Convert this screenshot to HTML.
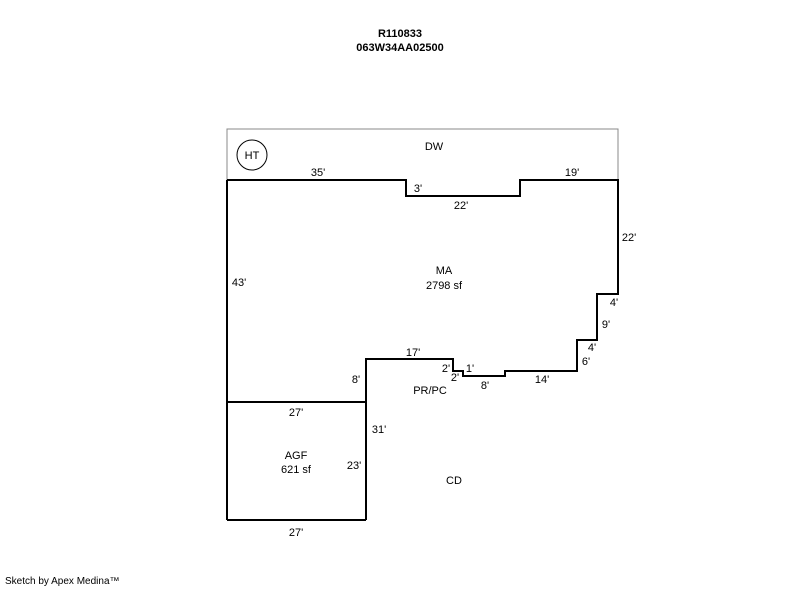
<!DOCTYPE html>
<html><head><style>
body{margin:0;background:#fff;width:800px;height:587px;overflow:hidden;}
svg text{font-family:"Liberation Sans",Arial,sans-serif;font-size:11px;fill:#000;}
</style></head><body>
<svg width="800" height="587" xmlns="http://www.w3.org/2000/svg">
<text x="400" y="37" text-anchor="middle" style="font-weight:bold">R110833</text>
<text x="400" y="51" text-anchor="middle" style="font-weight:bold">063W34AA02500</text>
<polyline points="227,180 227,129 618,129 618,180" fill="none" stroke="#888" stroke-width="1"/>
<circle cx="252" cy="155" r="15" fill="none" stroke="#000" stroke-width="1"/>
<text x="252" y="159" text-anchor="middle">HT</text>
<text x="434" y="150" text-anchor="middle">DW</text>
<polyline fill="none" stroke="#000" stroke-width="2" points="227,180 406,180 406,196 520,196 520,180 618,180 618,294 597,294 597,340 577,340 577,371 505,371 505,376 463,376 463,371 453,371 453,359 366,359 366,520"/>
<line x1="227" y1="180" x2="227" y2="520" stroke="#000" stroke-width="2"/>
<line x1="227" y1="402" x2="366" y2="402" stroke="#000" stroke-width="2"/>
<line x1="227" y1="520" x2="366" y2="520" stroke="#000" stroke-width="2"/>
<text x="318" y="176" text-anchor="middle">35'</text>
<text x="418" y="192" text-anchor="middle">3'</text>
<text x="461" y="209" text-anchor="middle">22'</text>
<text x="572" y="176" text-anchor="middle">19'</text>
<text x="629" y="241" text-anchor="middle">22'</text>
<text x="614" y="306" text-anchor="middle">4'</text>
<text x="606" y="328" text-anchor="middle">9'</text>
<text x="592" y="351" text-anchor="middle">4'</text>
<text x="586" y="365" text-anchor="middle">6'</text>
<text x="542" y="383" text-anchor="middle">14'</text>
<text x="485" y="389" text-anchor="middle">8'</text>
<text x="470" y="372" text-anchor="middle">1'</text>
<text x="446" y="372" text-anchor="middle">2'</text>
<text x="455" y="381" text-anchor="middle">2'</text>
<text x="413" y="356" text-anchor="middle">17'</text>
<text x="356" y="383" text-anchor="middle">8'</text>
<text x="239" y="286" text-anchor="middle">43'</text>
<text x="444" y="274" text-anchor="middle">MA</text>
<text x="444" y="289" text-anchor="middle">2798 sf</text>
<text x="430" y="394" text-anchor="middle">PR/PC</text>
<text x="296" y="416" text-anchor="middle">27'</text>
<text x="379" y="433" text-anchor="middle">31'</text>
<text x="296" y="459" text-anchor="middle">AGF</text>
<text x="296" y="473" text-anchor="middle">621 sf</text>
<text x="354" y="469" text-anchor="middle">23'</text>
<text x="454" y="484" text-anchor="middle">CD</text>
<text x="296" y="536" text-anchor="middle">27'</text>
<text x="5" y="584" style="font-size:10px">Sketch by Apex Medina™</text>
</svg>
</body></html>
